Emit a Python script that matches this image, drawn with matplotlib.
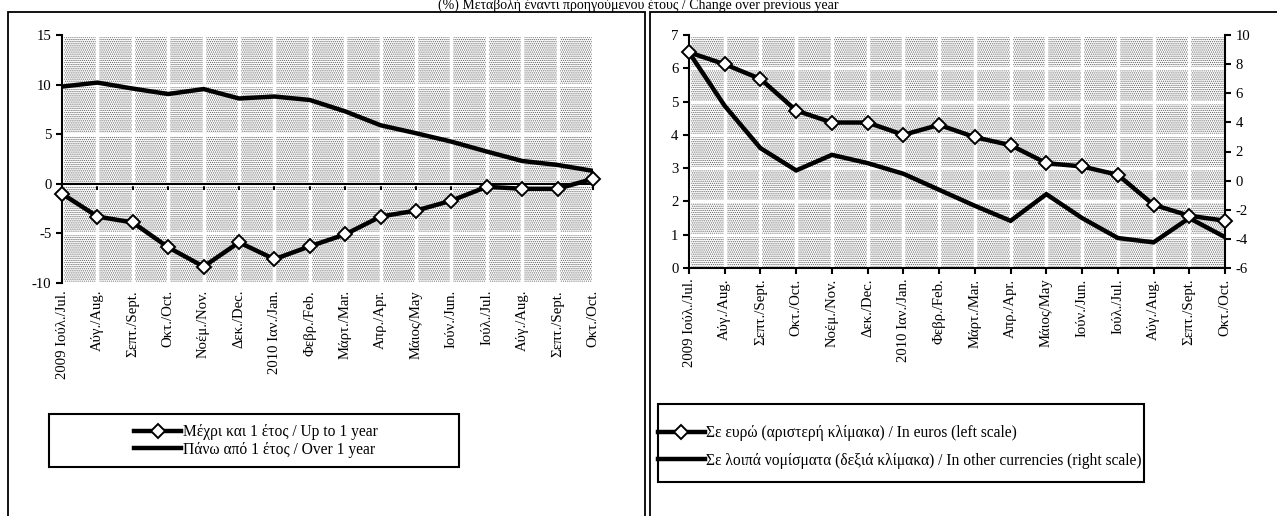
import matplotlib.pyplot as plt
from matplotlib.patches import Rectangle
from matplotlib.lines import Line2D
import numpy as np

plt.rcParams['font.family'] = ['Liberation Serif', 'DejaVu Serif']
plt.rcParams['hatch.linewidth'] = 0.6
plt.rcParams['axes.unicode_minus'] = False

months = ["2009 Ιούλ./Jul.", "Αύγ./Aug.", "Σεπτ./Sept.", "Οκτ./Oct.", "Νοέμ./Nov.",
          "Δεκ./Dec.", "2010 Ιαν./Jan.", "Φεβρ./Feb.", "Μάρτ./Mar.", "Απρ./Apr.",
          "Μάιος/May", "Ιούν./Jun.", "Ιούλ./Jul.", "Αύγ./Aug.", "Σεπτ./Sept.", "Οκτ./Oct."]

# left panel: by maturity
up_to_1y = [-1.0, -3.3, -3.9, -6.4, -8.35, -5.9, -7.6, -6.3, -5.1, -3.3, -2.7, -1.7, -0.3, -0.5, -0.5, 0.5]
over_1y = [9.8, 10.2, 9.6, 9.05, 9.55, 8.6, 8.8, 8.45, 7.3, 5.9, 5.1, 4.25, 3.25, 2.3, 1.9, 1.3]

# right panel: by currency
in_euros = [6.48, 6.12, 5.68, 4.73, 4.37, 4.37, 4.0, 4.3, 3.93, 3.69, 3.15, 3.05, 2.8, 1.9, 1.57, 1.42]
other_ccy = [8.8, 5.13, 2.23, 0.7, 1.77, 1.2, 0.47, -0.63, -1.73, -2.76, -0.93, -2.57, -3.94, -4.24, -2.57, -3.88]

title = "(%) Μεταβολή έναντι προηγούμενου έτους / Change over previous year"

W, H = 1277, 516
fig = plt.figure(figsize=(W / 100, H / 100), dpi=100)

def fx(px):
    return px / W

def fy(py):
    return 1 - py / H

x = np.arange(len(months))
line_kw = dict(color='black', lw=3.2, solid_joinstyle='miter')
mark_kw = dict(marker='D', markersize=7, markerfacecolor='white',
               markeredgecolor='black', markeredgewidth=1.4)
tick_fs = 10.6


def shade(ax):
    ax.set_facecolor('white')
    ax.add_patch(Rectangle((0, 0), 1, 1, transform=ax.transAxes, facecolor='white',
                           edgecolor='#606060', hatch='........', lw=0, zorder=0))
    ax.grid(True, color='white', lw=2.5, zorder=1)
    ax.set_axisbelow(True)


def style_common(ax):
    for s in ['top', 'right']:
        ax.spines[s].set_visible(False)
    ax.spines['left'].set_linewidth(1.5)
    ax.spines['bottom'].set_linewidth(1.5)
    ax.tick_params(axis='both', direction='out', length=4, width=1.5, labelsize=tick_fs)
    ax.set_xlim(0, len(months) - 1)
    ax.set_xticks(x)


# ---- left chart
ax1 = fig.add_axes([fx(62), fy(283), fx(593 - 62), (283 - 35) / H])
shade(ax1)
style_common(ax1)
ax1.set_ylim(-10, 15)
ax1.set_yticks(range(-10, 16, 5))
ax1.spines['bottom'].set_position(('data', 0))
ax1.tick_params(axis='x', labelbottom=False)
sec1 = ax1.secondary_xaxis(-0.0)
sec1.set_xticks(x, months, rotation=90)
sec1.tick_params(length=0, labelsize=tick_fs, pad=5)
sec1.spines['bottom'].set_visible(False)
ax1.plot(x, over_1y, zorder=3, **line_kw)
ax1.plot(x, up_to_1y, zorder=4, clip_on=False, **line_kw, **mark_kw)

# ---- right chart
ax2 = fig.add_axes([fx(689), fy(268), fx(1225 - 689), (268 - 35) / H])
shade(ax2)
style_common(ax2)
ax2.set_ylim(0, 7)
ax2.set_yticks(range(0, 8))
ax2.set_xticks(x, months, rotation=90)
ax2b = ax2.twinx()
ax2b.set_ylim(-6, 10)
ax2b.set_yticks(range(-6, 11, 2))
for s in ['top', 'left', 'bottom']:
    ax2b.spines[s].set_visible(False)
ax2b.spines['right'].set_linewidth(1.5)
ax2b.tick_params(axis='y', direction='out', length=4, width=1.5, labelsize=tick_fs)
ax2b.plot(x, other_ccy, zorder=3, **line_kw)
ax2b.plot(x, np.array(in_euros) * 16 / 7 - 6, zorder=4, clip_on=False, **line_kw, **mark_kw)

# ---- panel frames
for (x0, x1) in [(8, 645), (650, 1285)]:
    fig.add_artist(Rectangle((fx(x0), fy(530)), fx(x1 - x0), (530 - 12) / H,
                             transform=fig.transFigure, fill=False, lw=1.3,
                             edgecolor='black'))

fig.text(0.5, fy(9), title, ha='center', va='baseline', fontsize=10)

# ---- legends
h_mark = Line2D([], [], **line_kw, **mark_kw)
h_line = Line2D([], [], **line_kw)

fig.add_artist(Rectangle((fx(49), fy(467)), fx(459 - 49), (467 - 414) / H,
                         transform=fig.transFigure, fill=False, lw=1.5, edgecolor='black'))
fig.legend([h_mark, h_line],
           ["Μέχρι και 1 έτος / Up to 1 year", "Πάνω από 1 έτος / Over 1 year"],
           loc='center', bbox_to_anchor=(fx(256), fy(441)), frameon=False,
           fontsize=11.2, handlelength=3.0, handletextpad=0.1, labelspacing=0.1)

fig.add_artist(Rectangle((fx(658), fy(482)), fx(1144 - 658), (482 - 404) / H,
                         transform=fig.transFigure, fill=False, lw=1.5, edgecolor='black'))
fig.legend([h_mark, h_line],
           ["Σε ευρώ (αριστερή κλίμακα) / In euros (left scale)",
            "Σε λοιπά νομίσματα (δεξιά κλίμακα) / In other currencies (right scale)"],
           loc='center left', bbox_to_anchor=(fx(644), fy(447)), frameon=False,
           fontsize=11.2, handlelength=3.0, handletextpad=0.1, labelspacing=0.75)

fig.savefig('out.png', dpi=100)
